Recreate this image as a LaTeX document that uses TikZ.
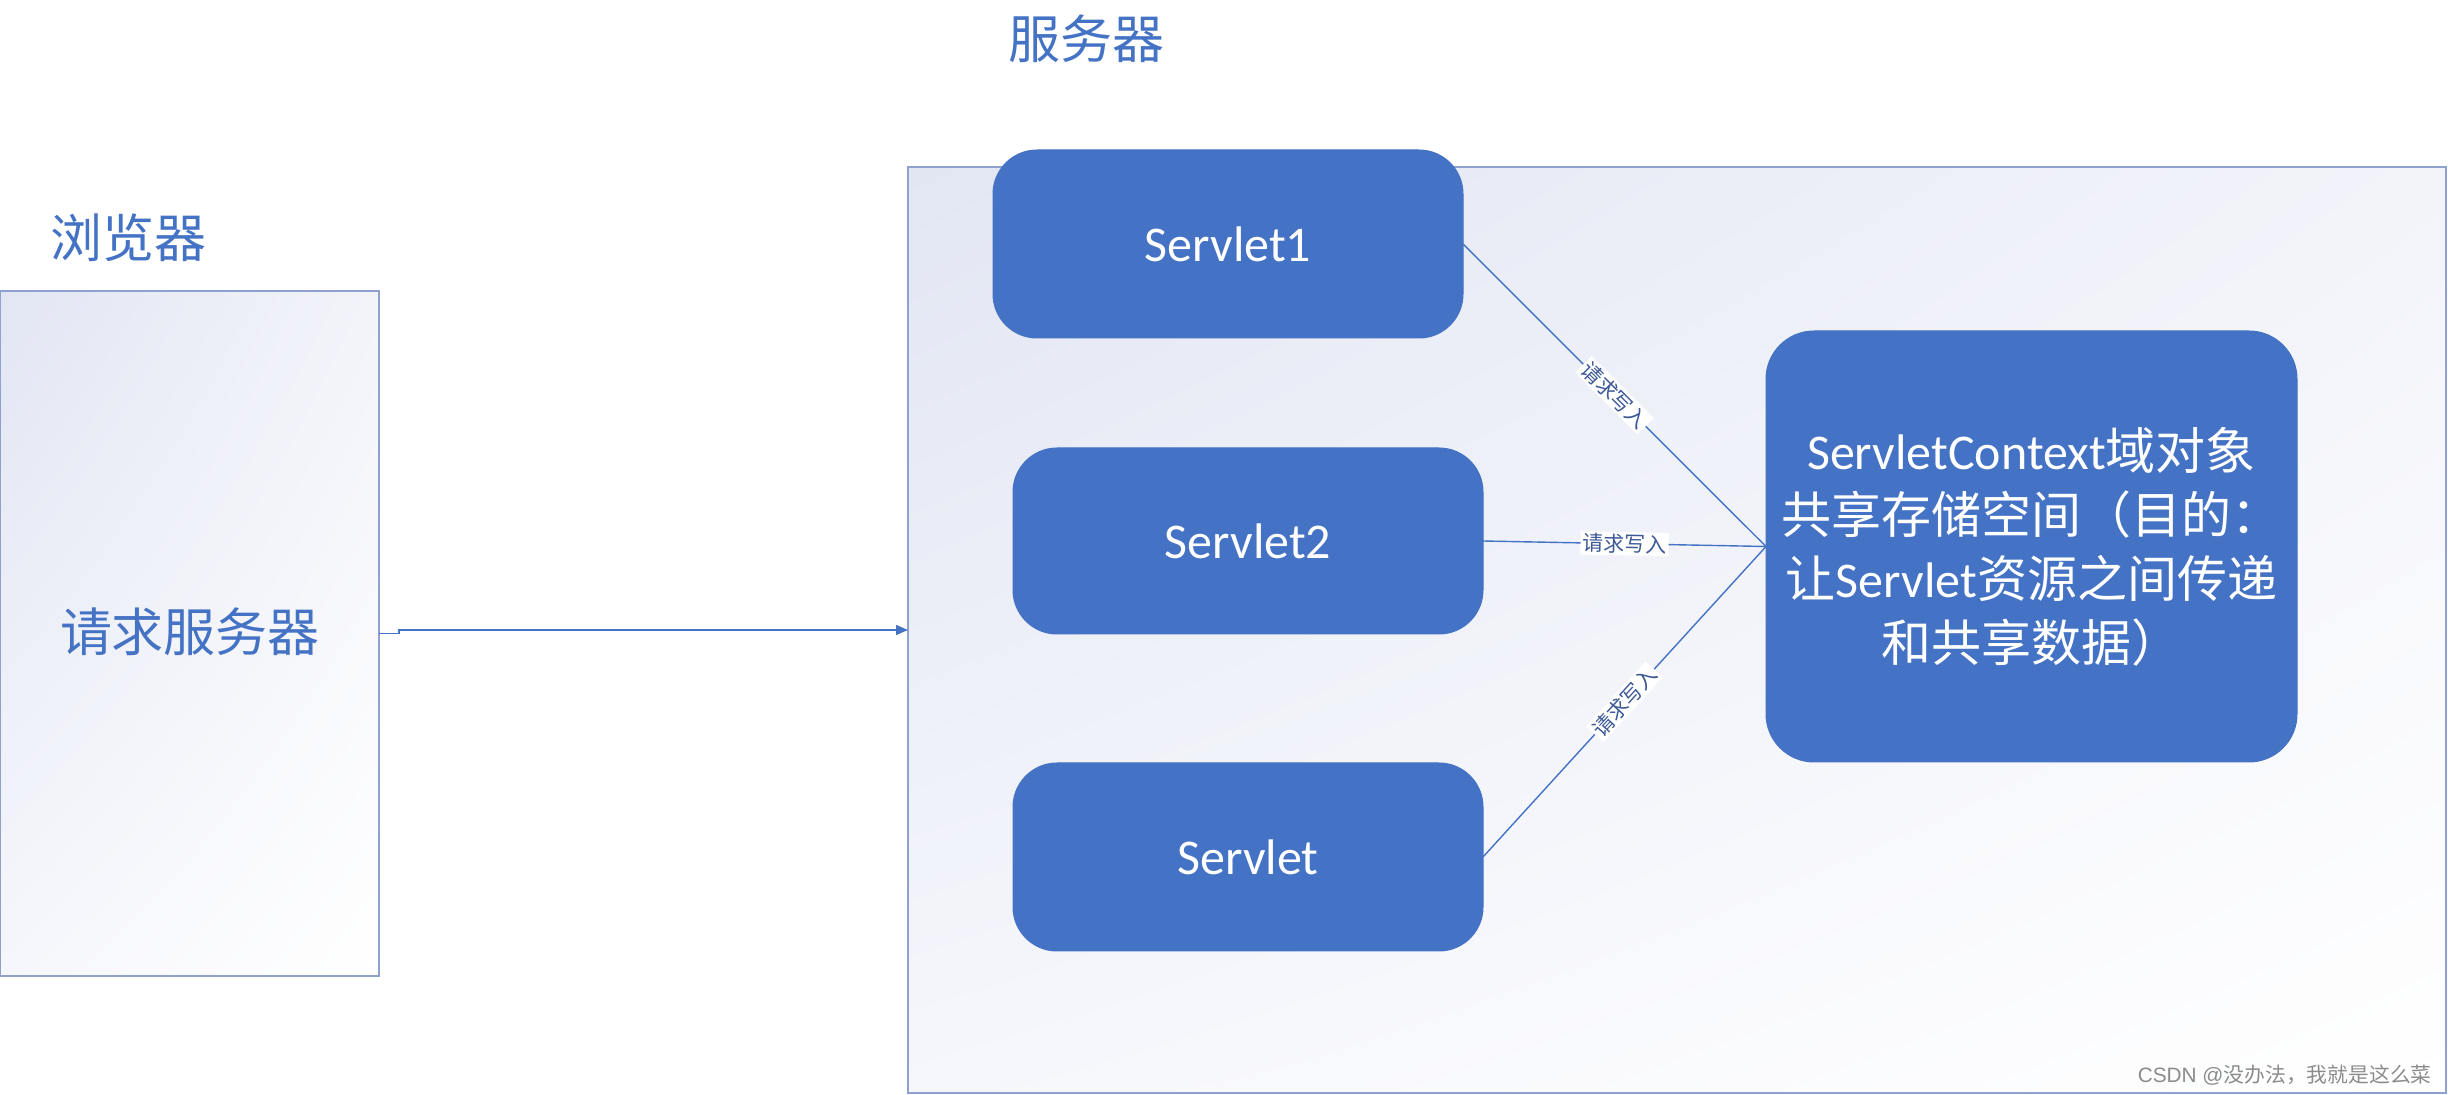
\documentclass[tikz,border=0pt]{standalone}
\usepackage{fontspec}
\setmainfont{Carlito}
\newfontfamily\cjk{Noto Sans CJK SC}
\newfontfamily\arialfont{Liberation Sans}
\usetikzlibrary{arrows.meta,shadings}
\definecolor{bblue}{HTML}{4472C4}
\definecolor{titleblue}{HTML}{4472C4}
\definecolor{frameline}{HTML}{8FA2CE}
\definecolor{lblcol}{HTML}{3E5A96}
\definecolor{wmgray}{HTML}{8C8C8C}
\definecolor{shUL}{HTML}{E2E6F3}
\definecolor{shUR}{HTML}{F3F4FA}
\definecolor{shLL}{HTML}{F6F7FC}
\tikzset{
  panel/.style={draw=frameline, line width=0.6pt, rectangle, outer sep=0pt, inner sep=0pt,
    upper left=shUL, upper right=shUR, lower left=shLL, lower right=white},
  sbox/.style={fill=bblue, draw=bblue, line width=0.5pt, rounded corners=22pt, outer sep=0pt,
    inner sep=0pt, text=white, font=\fontsize{25}{32}\selectfont, align=center},
  link/.style={draw=bblue, line width=0.7pt},
  lbl/.style={midway, sloped, fill=white, inner sep=1pt, text=lblcol, font=\cjk\fontsize{10.5}{12}\selectfont},
  ttl/.style={text=titleblue, font=\cjk\fontsize{26}{30}\selectfont, inner sep=0pt}
}
\begin{document}
\begin{tikzpicture}[x=0.5pt,y=-0.5pt]
\useasboundingbox (0,0) rectangle (2448,1095);
% panels
\node[panel, minimum width=189.5pt, minimum height=342.5pt] (browser) at (189.5,633.5) {};
\node[panel, minimum width=769pt, minimum height=463pt] (server) at (1677,630) {};
% titles
\node[ttl] (btitle) at (128,238) {浏览器};
\node[ttl] (stitle) at (1086,39) {服务器};
\node[ttl] (btext) at (190,632) {请求服务器};
% servlet boxes
\node[sbox, minimum width=235pt, minimum height=94pt] (s1) at (1228,244) {Servlet1};
\node[sbox, minimum width=235pt, minimum height=93pt] (s2) at (1248,541) {Servlet2};
\node[sbox, minimum width=235pt, minimum height=94pt] (s3) at (1248,857) {Servlet};
\node[sbox, minimum width=265.5pt, minimum height=215.5pt, rounded corners=24pt] (ctx) at (2031.5,546.5)
  {ServletContext{\cjk 域对象}\\{\cjk 共享存储空间（目的：}\\{\cjk 让}Servlet{\cjk 资源之间传递}\\{\cjk 和共享数据）}};
% connectors
\draw[link] (s1.east) -- node[lbl] {请求写入} (ctx.west);
\draw[link] (s2.east) -- node[lbl] {请求写入} (ctx.west);
\draw[link] (s3.east) -- node[lbl] {请求写入} (ctx.west);
\draw[link, -{Triangle[length=6pt,width=5pt]}] (browser.east) -- ++(20,0) |- (server.west);
% watermark
\node[anchor=east, text=wmgray, inner sep=0pt, font=\fontsize{10.4}{12}\selectfont] (wm) at (2432,1075)
  {{\arialfont CSDN @}{\cjk 没办法，我就是这么菜}};
\end{tikzpicture}
\end{document}
